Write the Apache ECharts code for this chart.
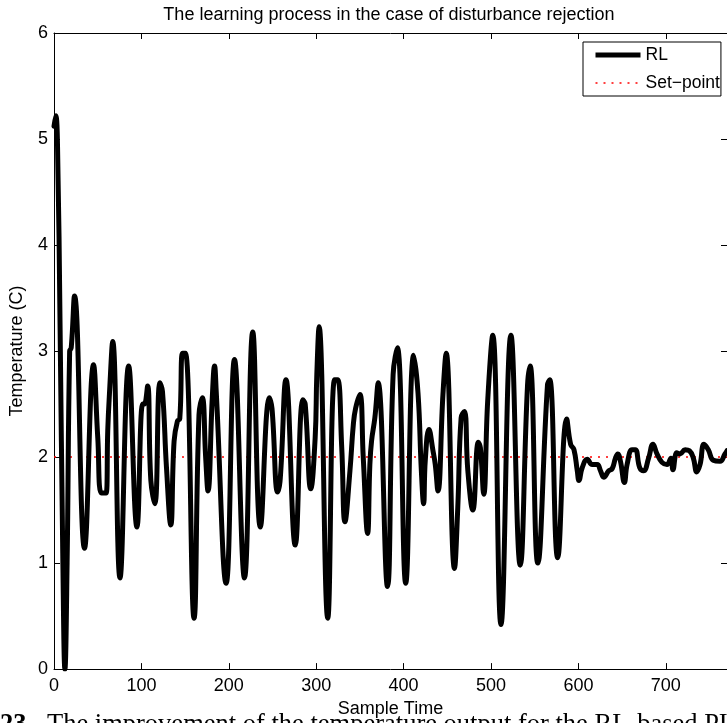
<!DOCTYPE html>
<html>
<head>
<meta charset="utf-8">
<title>Learning process – disturbance rejection</title>
<script src="https://cdn.jsdelivr.net/npm/echarts@6/dist/echarts.min.js"></script>
<style>
  html, body { margin: 0; padding: 0; background: #fff; }
  #chart { width: 727px; height: 723px; }
</style>
</head>
<body>
<div id="chart"></div>
<script>
// Sample instants (x) and measured temperature (°C) of the RL controller output
const sampleTime = [
  0, 2, 4, 7, 10, 12.5, 15, 17.9, 19.7, 23.5,
  34.9, 45.2, 50.1, 54.3, 59.6, 61.5, 63.4, 67.2, 75.5, 85.4,
  94.9, 101.4, 103.3, 107.1, 110.8, 115.4, 121.1, 124.1, 128.7, 133.6,
  137.4, 141.2, 143.9, 147.2, 150.4, 160.2, 165.9, 169.7, 173.5, 176.2,
  181.1, 183.7, 185.6, 197, 206.5, 217.9, 227.4, 236.1, 246.4, 249.4,
  255.9, 258.9, 265.4, 276, 284.7, 287.4, 293.8, 298.8, 300.7, 303.3,
  313.2, 321, 324.5, 329.2, 332.9, 338.6, 342.5, 345.1, 350, 353.8,
  358.8, 361.4, 363.3, 367.1, 370.9, 381.5, 388, 392.9, 402.4, 411.5,
  416.5, 420.3, 422.9, 424.8, 429, 433.6, 436.2, 439.3, 445, 448.7,
  458.2, 462, 465.8, 469.6, 473.5, 479.2, 485.5, 487.8, 491.7, 496.2,
  502, 511.4, 522.8, 533.4, 541.8, 544.8, 553.5, 564.6, 567.2, 576.3,
  586.6, 591.1, 594.9, 598.7, 600.6, 604.4, 610.1, 615.8, 621.5, 625.3,
  629.0, 634.7, 638.6, 642.4, 645, 648.1, 652.6, 655.7, 661.4, 665.1,
  670.1, 674.6, 680.3, 685.3, 689.9, 695.6, 701.3, 705.8, 708.1, 712.6,
  716.4, 722.1, 727, 731.5, 735.4, 739.2, 743.7, 748.6, 754.3, 762,
  767.7, 770
];
const temperature = [
  5.12, 5.22, 4.95, 3.2, 1.1, 0.0, 1.0, 3.0, 3.03, 3.52,
  1.14, 2.87, 2.18, 1.66, 1.66, 2.25, 2.59, 3.09, 0.86, 2.86,
  1.34, 2.50, 2.50, 2.67, 1.78, 1.56, 2.70, 2.62, 1.90, 1.36,
  2.15, 2.34, 2.36, 2.98, 2.98, 0.48, 2.40, 2.56, 2.0, 1.68,
  2.56, 2.86, 2.62, 0.81, 2.92, 0.86, 3.18, 1.34, 2.56, 2.46,
  1.67, 1.80, 2.73, 1.17, 2.54, 2.50, 1.70, 2.18, 2.78, 3.23,
  0.48, 2.73, 2.73, 2.09, 1.39, 1.87, 2.31, 2.46, 2.59, 2.0,
  1.28, 1.93, 2.15, 2.37, 2.70, 0.78, 2.78, 3.03, 0.81, 2.96,
  2.6, 1.87, 1.56, 1.97, 2.26, 2.06, 1.93, 1.68, 2.59, 2.98,
  0.95, 1.53, 2.37, 2.43, 1.87, 1.50, 2.14, 2.09, 1.65, 2.53,
  3.15, 0.42, 3.15, 0.98, 2.68, 2.86, 1.0, 2.68, 2.73, 1.05,
  2.36, 2.12, 2.07, 1.87, 1.78, 1.90, 1.98, 1.93, 1.93, 1.87,
  1.81, 1.87, 1.89, 1.99, 2.03, 1.96, 1.76, 1.93, 2.07, 2.07,
  1.90, 1.87, 1.99, 2.12, 2.03, 1.95, 1.93, 1.99, 1.88, 2.04,
  2.03, 2.07, 2.06, 1.99, 1.86, 1.93, 2.12, 2.07, 1.97, 1.96,
  2.03, 2.06
];
const setPoint = 2;
const xRange = [0, 770];
const xTicks = [0, 100, 200, 300, 400, 500, 600, 700];
const yTicks = [0, 1, 2, 3, 4, 5, 6];

const FONT = '"Liberation Sans", Arial, Helvetica, sans-serif';
const SERIF = '"Liberation Serif", "Times New Roman", serif';
const rlData = sampleTime.map((t, i) => [t, temperature[i]]);
const spData = [[xRange[0], setPoint], [xRange[1], setPoint]];

const rlLine = { color: '#000', width: 5, type: 'solid', cap: 'butt', join: 'round' };
const spLine = { color: '#ff0000', width: 1.5, type: [2, 6] };

const tickStyle = { show: true, inside: true, length: 6, lineStyle: { color: '#000', width: 1 } };
const lineStyle = { show: true, onZero: false, lineStyle: { color: '#000', width: 1 } };

const chart = echarts.init(document.getElementById('chart'), null, { renderer: 'canvas' });
chart.setOption({
  animation: false,
  backgroundColor: '#fff',
  title: {
    text: 'The learning process in the case of disturbance rejection',
    left: 389, top: 6, padding: 0, textAlign: 'center',
    textStyle: { fontFamily: FONT, fontSize: 18, fontWeight: 'normal', color: '#000' }
  },
  legend: {
    orient: 'vertical',
    left: 583, top: 42,
    padding: [4, 1, 4, 10],
    itemGap: 10,
    itemWidth: 45, itemHeight: 17,
    backgroundColor: '#fff',
    borderColor: '#000', borderWidth: 1, borderRadius: 0,
    itemStyle: { opacity: 0 },
    textStyle: { fontFamily: FONT, fontSize: 17.5, color: '#000', lineHeight: 17 },
    data: [
      { name: 'RL', lineStyle: rlLine },
      { name: 'Set\u2212point', lineStyle: spLine }
    ]
  },
  grid: { left: 51, right: 0, top: 33, bottom: 50 },
  xAxis: [{
    type: 'value', min: xRange[0], max: xRange[1],
    name: 'Sample Time', nameLocation: 'middle', nameGap: 28,
    nameTextStyle: { fontFamily: FONT, fontSize: 18, color: '#000' },
    axisLine: lineStyle,
    axisTick: Object.assign({ customValues: xTicks }, tickStyle),
    axisLabel: { customValues: xTicks, margin: 8, fontFamily: FONT, fontSize: 18, color: '#000' },
    splitLine: { show: false }
  }, {
    type: 'value', position: 'top', min: xRange[0], max: xRange[1],
    axisLine: lineStyle,
    axisTick: Object.assign({ customValues: xTicks }, tickStyle),
    axisLabel: { show: false },
    splitLine: { show: false }
  }],
  yAxis: [{
    type: 'value', min: 0, max: 6, interval: 1,
    name: 'Temperature (C)', nameLocation: 'middle', nameGap: 28, nameRotate: 90,
    nameTextStyle: { fontFamily: FONT, fontSize: 18, color: '#000' },
    axisLine: lineStyle,
    axisTick: Object.assign({ customValues: yTicks }, tickStyle),
    axisLabel: { customValues: yTicks, margin: 6, fontFamily: FONT, fontSize: 18, color: '#000' },
    splitLine: { show: false }
  }, {
    type: 'value', position: 'right', min: 0, max: 6, interval: 1,
    axisLine: { show: false, onZero: false },
    axisTick: Object.assign({ customValues: yTicks }, tickStyle),
    axisLabel: { show: false },
    splitLine: { show: false }
  }],
  graphic: [{
    type: 'text', left: 0, top: 712, silent: true, z: -1,
    style: { text: '23.', font: 'bold 26.5px ' + SERIF, fill: '#000' }
  }, {
    type: 'text', left: 47, top: 712, silent: true, z: -1,
    style: { text: 'The improvement of the temperature output for the RL-based PI', font: '26.5px ' + SERIF, fill: '#000' }
  }],
  series: [{
    name: 'Set\u2212point', type: 'line', data: spData,
    xAxisIndex: 0, yAxisIndex: 0,
    symbol: 'none', silent: true, z: 2,
    lineStyle: spLine,
    itemStyle: { color: '#ff0000' }
  }, {
    name: 'RL', type: 'line', data: rlData,
    xAxisIndex: 0, yAxisIndex: 0,
    symbol: 'none', smooth: 0.45, silent: true, z: 3,
    lineStyle: Object.assign({}, rlLine, { cap: 'round' }),
    itemStyle: { color: '#000' }
  }]
});
</script>
</body>
</html>
